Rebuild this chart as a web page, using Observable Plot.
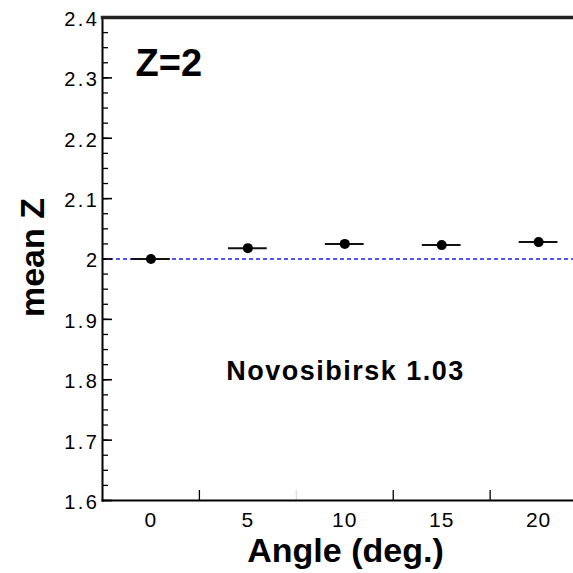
<!DOCTYPE html>
<html><head><meta charset="utf-8">
<script src="https://cdn.jsdelivr.net/npm/d3@7"></script>
<script src="https://cdn.jsdelivr.net/npm/@observablehq/plot@0.6"></script>
<style>
html,body{margin:0;padding:0;background:#fff;}
[aria-label="y-axis tick label"] text{letter-spacing:2.5px;}
[aria-label="x-axis tick label"] text{letter-spacing:1px;}
</style></head><body><div id="chart"></div>
<script>
// data
const angles = [0, 5, 10, 15, 20];
const meanZ = [2.000, 2.018, 2.025, 2.023, 2.028];
const angleErr = [1, 1, 1, 1, 1];
const zErr = [0.002, 0.003, 0.003, 0.003, 0.003];
const refLevel = [2.0];
const yTicks = [1.6, 1.7, 1.8, 1.9, 2.0, 2.1, 2.2, 2.3, 2.4];
const yTickLabels = ["1.6", "1.7", "1.8", "1.9", "2", "2.1", "2.2", "2.3", "2.4"];
const xTicks = [0, 5, 10, 15, 20];
const xTickLabels = ["0", "5", "10", "15", "20"];
const xMinorTicks = [2.5, 12.5, 17.5];
const xFaintTicks = [7.5];
const panelLabel = "Z=2";
const noteLabel = "Novosibirsk 1.03";
const xTitle = "Angle (deg.)";
const yTitle = "mean Z";

const data = angles.map((a, i) => ({angle: a, z: meanZ[i], ex: angleErr[i], ez: zErr[i]}));

const chart = Plot.plot({
  width: 573,
  height: 573,
  marginLeft: 102,
  marginRight: 0,
  marginTop: 17,
  marginBottom: 73,
  style: {fontFamily: "'Liberation Sans', Arial, sans-serif", color: "#000", background: "#fff"},
  x: {domain: [-2.5, 21.8]},
  y: {domain: [1.6, 2.4]},
  marks: [
    Plot.ruleY(refLevel, {stroke: "#1a1aff", strokeWidth: 1.6, strokeDasharray: "4,3"}),
    Plot.ruleY(data, {y: "z", x1: d => d.angle - d.ex, x2: d => d.angle + d.ex, stroke: "#111", strokeWidth: 2}),
    Plot.ruleX(data, {x: "angle", y1: d => d.z - d.ez, y2: d => d.z + d.ez, stroke: "#111", strokeWidth: 2}),
    Plot.dot(data, {x: "angle", y: "z", r: 5, fill: "#000"}),
    // y axis
    Plot.axisY(yTicks, {tickSize: 0, tickPadding: 3, dy: 2, fontSize: 20,
      tickFormat: d => yTickLabels[yTicks.indexOf(d)], label: null}),
    Plot.axisY(yTicks, {tickSize: -10, text: null, strokeWidth: 1.6, label: null}),
    Plot.axisY({interval: 0.025, tickSize: -6, text: null, strokeWidth: 1.3, label: null}),
    // x axis
    Plot.axisX(xTicks, {tickSize: 0, tickPadding: 12, fontSize: 21,
      tickFormat: d => xTickLabels[xTicks.indexOf(d)], label: null}),
    Plot.axisX(xMinorTicks, {tickSize: -10, text: null, strokeWidth: 1.3, label: null}),
    Plot.axisX(xFaintTicks, {tickSize: -10, text: null, strokeWidth: 1.3, stroke: "#ddd", label: null}),
    // frame lines
    Plot.frame({anchor: "left", strokeWidth: 2}),
    Plot.frame({anchor: "bottom", strokeWidth: 2}),
    Plot.frame({anchor: "top", strokeWidth: 3.5, stroke: "#222"}),
    // annotations
    Plot.text([panelLabel], {frameAnchor: "top-left", dx: 33, dy: 32, lineAnchor: "top",
      textAnchor: "start", fontSize: 38, fontWeight: "bold"}),
    Plot.text([noteLabel], {frameAnchor: "top-left", dx: 243, dy: 343, lineAnchor: "top",
      textAnchor: "middle", fontSize: 27, fontWeight: "bold"}),
    Plot.text([yTitle], {frameAnchor: "left", rotate: -90, dx: -69.5, dy: -1.5, lineAnchor: "middle",
      textAnchor: "middle", fontSize: 34, fontWeight: "bold"}),
    Plot.text([xTitle], {frameAnchor: "bottom", dx: 7.5, dy: 50.5, lineAnchor: "middle",
      textAnchor: "middle", fontSize: 34, fontWeight: "bold"})
  ]
});
d3.select(chart).selectAll("text").filter(function() { return this.textContent === noteLabel; })
  .style("letter-spacing", "1.5px");
document.getElementById("chart").appendChild(chart);
</script></body></html>
